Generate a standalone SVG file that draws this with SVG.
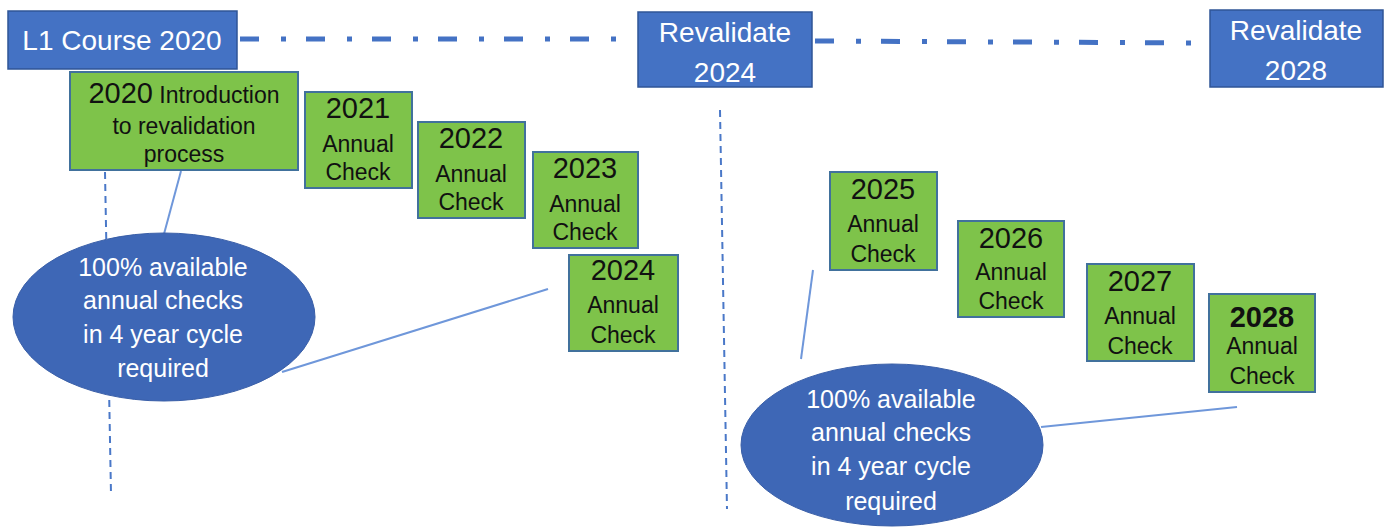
<svg xmlns="http://www.w3.org/2000/svg" width="1393" height="529" viewBox="0 0 1393 529">
<style>
.blue{fill:#4472C4;stroke:#2F5597;stroke-width:1.5}
.green{fill:#7EC34A;stroke:#41719C;stroke-width:2}
.oval{fill:#3E67B6;stroke:#3A5FA8;stroke-width:1}
.wt{fill:#fff;font-family:"Liberation Sans",Arial,sans-serif;text-anchor:middle}
.bt{fill:#111;font-family:"Liberation Sans",Arial,sans-serif;text-anchor:middle}
.yr{font-size:29px}
.sm{font-size:23px}
.ov{font-size:25px}
.bl{font-size:28px}
.dashdot{stroke:#4472C4;stroke-width:5;fill:none;stroke-dasharray:19 22 5 20}
.vdash{stroke:#4A78C8;stroke-width:2;fill:none;stroke-dasharray:7 5}
.conn{stroke:#6F97DA;stroke-width:2;fill:none}
</style>
<g id="connectors">
<line class="dashdot" x1="240" y1="39" x2="636" y2="39"/>
<line class="dashdot" x1="815" y1="41" x2="1208" y2="43"/>
<line class="vdash" x1="105" y1="172" x2="111" y2="494"/>
<line class="vdash" x1="720" y1="110" x2="727" y2="509"/>
<line class="conn" x1="181" y1="171" x2="164" y2="234"/>
<line class="conn" x1="548" y1="289" x2="282" y2="372"/>
<line class="conn" x1="813" y1="270" x2="801" y2="359"/>
<line class="conn" x1="1237" y1="407" x2="1041" y2="427"/>
</g>
<g id="n-l1">
<rect class="blue" x="8" y="11" width="229" height="58"/>
<text class="wt bl" x="122" y="50">L1 Course 2020</text>
</g>
<g id="n-rev2024">
<rect class="blue" x="638" y="12" width="174" height="75"/>
<text class="wt bl" x="725" y="42">Revalidate</text>
<text class="wt bl" x="725" y="82">2024</text>
</g>
<g id="n-rev2028">
<rect class="blue" x="1210" y="10" width="173" height="77"/>
<text class="wt bl" x="1296" y="40">Revalidate</text>
<text class="wt bl" x="1296" y="80">2028</text>
</g>
<g id="n-2020">
<rect class="green" x="70" y="72" width="228" height="98"/>
<text class="bt" x="184" y="103"><tspan font-size="29">2020</tspan><tspan font-size="23"> Introduction</tspan></text>
<text class="bt" x="184" y="134" font-size="23">to revalidation</text>
<text class="bt" x="184" y="162" font-size="23">process</text>
</g>
<g id="n-2021">
<rect class="green" x="305" y="92" width="107" height="96"/>
<text class="bt yr" x="358" y="118">2021</text>
<text class="bt sm" x="358" y="152">Annual</text>
<text class="bt sm" x="358" y="180">Check</text>
</g>
<g id="n-2022">
<rect class="green" x="418" y="122" width="107" height="96"/>
<text class="bt yr" x="471" y="148">2022</text>
<text class="bt sm" x="471" y="182">Annual</text>
<text class="bt sm" x="471" y="210">Check</text>
</g>
<g id="n-2023">
<rect class="green" x="533" y="152" width="105" height="96"/>
<text class="bt yr" x="585" y="178">2023</text>
<text class="bt sm" x="585" y="212">Annual</text>
<text class="bt sm" x="585" y="240">Check</text>
</g>
<g id="n-2024">
<rect class="green" x="569" y="255" width="109" height="96"/>
<text class="bt yr" x="623" y="280">2024</text>
<text class="bt sm" x="623" y="313">Annual</text>
<text class="bt sm" x="623" y="343">Check</text>
</g>
<g id="n-oval1">
<ellipse class="oval" cx="164" cy="317" rx="151" ry="84"/>
<text class="wt ov" x="163" y="276">100% available</text>
<text class="wt ov" x="163" y="309">annual checks</text>
<text class="wt ov" x="163" y="343">in 4 year cycle</text>
<text class="wt ov" x="163" y="377">required</text>
</g>
<g id="n-2025">
<rect class="green" x="830" y="172" width="107" height="98"/>
<text class="bt yr" x="883" y="199">2025</text>
<text class="bt sm" x="883" y="232">Annual</text>
<text class="bt sm" x="883" y="262">Check</text>
</g>
<g id="n-2026">
<rect class="green" x="958" y="221" width="106" height="96"/>
<text class="bt yr" x="1011" y="248">2026</text>
<text class="bt sm" x="1011" y="280">Annual</text>
<text class="bt sm" x="1011" y="309">Check</text>
</g>
<g id="n-2027">
<rect class="green" x="1087" y="264" width="107" height="97"/>
<text class="bt yr" x="1140" y="291">2027</text>
<text class="bt sm" x="1140" y="324">Annual</text>
<text class="bt sm" x="1140" y="354">Check</text>
</g>
<g id="n-2028">
<rect class="green" x="1209" y="294" width="106" height="98"/>
<text class="bt yr" x="1262" y="327" font-weight="bold">2028</text>
<text class="bt sm" x="1262" y="354">Annual</text>
<text class="bt sm" x="1262" y="384">Check</text>
</g>
<g id="n-oval2">
<ellipse class="oval" cx="892" cy="445" rx="151" ry="81"/>
<text class="wt ov" x="891" y="408">100% available</text>
<text class="wt ov" x="891" y="441">annual checks</text>
<text class="wt ov" x="891" y="475">in 4 year cycle</text>
<text class="wt ov" x="891" y="510">required</text>
</g>
</svg>
